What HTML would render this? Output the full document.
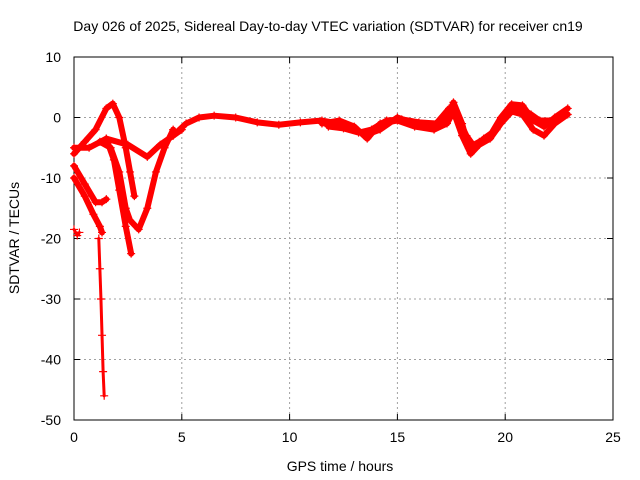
<!DOCTYPE html>
<html><head><meta charset="utf-8"><style>
body{margin:0;background:#fff;}
svg{display:block;font-family:"Liberation Sans",sans-serif;}
</style></head><body>
<svg id="chart" width="640" height="480">
<text x="328" y="31" text-anchor="middle" font-size="14">Day 026 of 2025, Sidereal Day-to-day VTEC variation (SDTVAR) for receiver cn19</text>
<g id="grid"></g>
<g id="axes"></g>
<g id="series"></g>
<text x="340" y="471" text-anchor="middle" font-size="14">GPS time / hours</text>
<text transform="translate(19,238) rotate(-90)" text-anchor="middle" font-size="14">SDTVAR / TECUs</text>
</svg>
<script>
const xTicks=[0,5,10,15,20,25];
const yTicks=[10,0,-10,-20,-30,-40,-50];
const trackHump=[[0,-6],[0.5,-4],[1.0,-2],[1.5,1.5],[1.8,2.3],[2.1,0],[2.4,-5],[2.6,-9],[2.8,-13]];
const trackSteep=[[1.5,-3.5],[1.85,-7],[2.1,-12],[2.4,-18],[2.65,-22.5]];
const trackBowl=[[1.2,-4],[1.7,-5],[2.1,-9],[2.4,-15],[2.6,-17],[3.0,-18.5],[3.4,-15],[3.8,-9],[4.2,-5],[4.6,-2]];
const trackMid=[[0,-5],[0.7,-5],[1.5,-3.5],[2.5,-4.5],[3.4,-6.5],[4.0,-4.5],[4.6,-3],[5.0,-2]];
const trackLow=[[0,-10],[0.5,-13],[0.9,-16],[1.2,-18],[1.3,-19]];
const trackDive=[[1.15,-20],[1.2,-25],[1.25,-30],[1.3,-36],[1.35,-42],[1.4,-46]];
const trackLeft2=[[0,-8],[0.5,-11],[1.0,-14],[1.3,-14],[1.5,-13.5]];
const trackDot=[[0,-18.5],[0.15,-19.5],[0.25,-19]];
const trackRightA=[[4.6,-3],[5.2,-1],[5.8,0],[6.5,0.3],[7.5,0],[8.5,-0.8],[9.5,-1.2],[10.5,-0.8],[11.5,-0.5],[12.3,-1],[13,-2],[13.6,-2.8],[14.2,-2],[15,0],[15.8,-1],[16.7,-1.5],[17.3,0],[17.6,2.5],[18.0,-1],[18.3,-5],[18.8,-4],[19.3,-3],[19.8,0],[20.3,2.2],[20.8,2],[21.3,-0.5],[21.8,-1.5],[22.3,0],[22.9,1.5]];
const trackRightB=[[11.5,-1],[12.3,-0.5],[13,-1.5],[13.6,-3.5],[14.2,-1],[15,-0.5],[15.8,-1.5],[16.7,-2],[17.3,-1],[17.6,1],[18,-3],[18.4,-6],[18.8,-4.5],[19.3,-3.5],[19.8,-1],[20.3,1],[20.8,0.5],[21.3,-2],[21.8,-3],[22.3,-1],[22.9,0.5]];
const trackRightC=[[11.8,-1.5],[12.5,-1.8],[13.2,-2.5],[13.8,-2],[14.5,-0.5],[15.2,-0.3],[16,-0.8],[16.8,-1],[17.4,1.5],[17.8,0],[18.2,-3],[18.6,-5],[19,-3.5],[19.6,-2],[20,0.5],[20.6,1.8],[21.2,0.5],[21.6,-0.5],[22.2,-0.5],[22.8,0.8]];
const tracks=[trackHump,trackSteep,trackBowl,trackMid,trackLow,trackDive,trackLeft2,trackDot,trackRightA,trackRightB,trackRightC];
const trackNames=['track-hump','track-steep','track-bowl','track-mid','track-low','track-dive','track-left2','track-dot','track-right-a','track-right-b','track-right-c'];

const X0=74,X1=613,Y0=57,Y1=420;
const xs=v=>X0+(v-0)/25*(X1-X0);
const ys=v=>Y0+(10-v)/60*(Y1-Y0);
const NS='http://www.w3.org/2000/svg';
function mk(tag,attrs,parent){const e=document.createElementNS(NS,tag);for(const k in attrs)e.setAttribute(k,attrs[k]);parent.appendChild(e);return e;}
const grid=document.getElementById('grid'),axes=document.getElementById('axes'),ser=document.getElementById('series');
xTicks.forEach(t=>{
  if(t>0&&t<25){const l=mk('line',{x1:xs(t),x2:xs(t),y1:Y0,y2:Y1,stroke:'#a0a0a0','stroke-dasharray':'2,3'},grid);
  
  }
  const tx=mk('text',{x:xs(t),y:Y1+22,'text-anchor':'middle','font-size':14},axes);tx.textContent=t;
  
  
  mk('line',{x1:xs(t),x2:xs(t),y1:Y1,y2:Y1-6,stroke:'#000'},axes);
  mk('line',{x1:xs(t),x2:xs(t),y1:Y0,y2:Y0+6,stroke:'#000'},axes);
});
yTicks.forEach(t=>{
  if(t<10&&t>-50){const l=mk('line',{x1:X0,x2:X1,y1:ys(t),y2:ys(t),stroke:'#a0a0a0','stroke-dasharray':'2,3'},grid);
  
  }
  const tx=mk('text',{x:X0-13,y:ys(t)+5,'text-anchor':'end','font-size':14},axes);tx.textContent=t;
  
  
  mk('line',{x1:X0,x2:X0+6,y1:ys(t),y2:ys(t),stroke:'#000'},axes);
  mk('line',{x1:X1,x2:X1-6,y1:ys(t),y2:ys(t),stroke:'#000'},axes);
});
const fr=mk('rect',{x:X0,y:Y0,width:X1-X0,height:Y1-Y0,fill:'none',stroke:'#000'},axes);


tracks.forEach((tr,i)=>{
  const g=mk('g',{},ser);
  
  
  const thin=(i===5||i===7);
  mk('polyline',{points:tr.map(p=>xs(p[0])+','+ys(p[1])).join(' '),fill:'none',stroke:'#f00','stroke-width':thin?3:6,'stroke-linejoin':'round','stroke-linecap':'round'},g);
  tr.forEach(p=>{
    const cx=xs(p[0]),cy=ys(p[1]);
    const m=mk('path',{d:`M${cx-4},${cy}H${cx+4}M${cx},${cy-4}V${cy+4}`,stroke:'#f00','stroke-width':1.2},g);
    
    
  });
});
</script>
</body></html>
